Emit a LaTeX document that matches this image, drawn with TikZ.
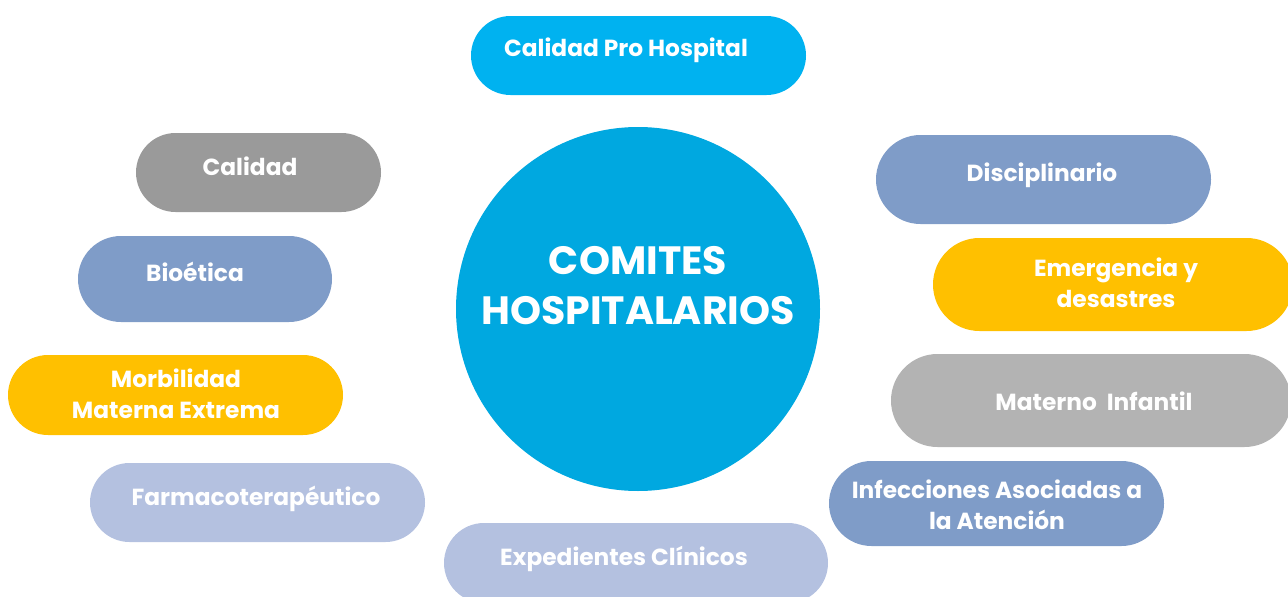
\documentclass[tikz,border=0pt]{standalone}
\usepackage{fontspec}
\setmainfont{Poppins}
\usetikzlibrary{shapes.misc}
\definecolor{cyanA}{HTML}{00B2F0}
\definecolor{cyanB}{HTML}{00A8E0}
\definecolor{grayA}{HTML}{9A9A9A}
\definecolor{grayB}{HTML}{B3B3B3}
\definecolor{steel}{HTML}{7F9CC8}
\definecolor{lav}{HTML}{B4C1E0}
\definecolor{gold}{HTML}{FFC000}
\tikzset{
  pill/.style={rounded rectangle, draw=none, fill=#1, inner sep=0pt},
  lbl/.style={text=white, font=\bfseries\fontsize{23.3}{31}\selectfont, align=center, inner sep=0pt},
}
\begin{document}
\begin{tikzpicture}[x=1pt,y=-1pt]
\useasboundingbox (0,0) rectangle (1288,597);
\clip (0,0) rectangle (1288,597);
% center circle
\node[circle, fill=cyanB, minimum size=364pt, inner sep=0pt] (c) at (638,309) {};
\node[text=white, font=\bfseries\fontsize{39.5}{50}\selectfont, align=center, inner sep=0pt] (ct) at (638,286) {COMITES\\HOSPITALARIOS};
% pills
\node[pill=cyanA, minimum width=335pt, minimum height=79pt] (p1) at (638.5,55.5) {};
\node[lbl] (t1) at (626,50) {Calidad Pro Hospital};
\node[pill=grayA, minimum width=245pt, minimum height=79pt] (p2) at (258.5,172.5) {};
\node[lbl] (t2) at (250,166) {Calidad};
\node[pill=steel, minimum width=254pt, minimum height=86pt] (p3) at (205,279) {};
\node[lbl] (t3) at (195,272) {Bioética};
\node[pill=gold, minimum width=335pt, minimum height=80pt] (p4) at (175.5,395) {};
\node[lbl] (t4) at (176,393.5) {Morbilidad\\Materna Extrema};
\node[pill=lav, minimum width=335pt, minimum height=79pt] (p5) at (257.5,502.5) {};
\node[lbl] (t5) at (256,499) {Farmacoterapéutico};
\node[pill=lav, minimum width=384pt, minimum height=80pt] (p6) at (636,563) {};
\node[lbl] (t6) at (624,559) {Expedientes Clínicos};
\node[pill=steel, minimum width=335pt, minimum height=89pt] (p8) at (1043.5,179.5) {};
\node[lbl] (t8) at (1042,175) {Disciplinario};
\node[pill=gold, minimum width=360pt, minimum height=93pt] (p9) at (1113,284.5) {};
\node[lbl] (t9) at (1116,282.5) {Emergencia y\\desastres};
\node[pill=grayB, minimum width=400pt, minimum height=93pt] (p10) at (1091,400.5) {};
\node[lbl] (t10) at (1094,401) {Materno\ \ Infantil};
\node[pill=steel, minimum width=335pt, minimum height=85pt] (p11) at (996.5,503.5) {};
\node[lbl] (t11) at (997,505) {Infecciones Asociadas a\\la Atención};
\end{tikzpicture}
\end{document}
